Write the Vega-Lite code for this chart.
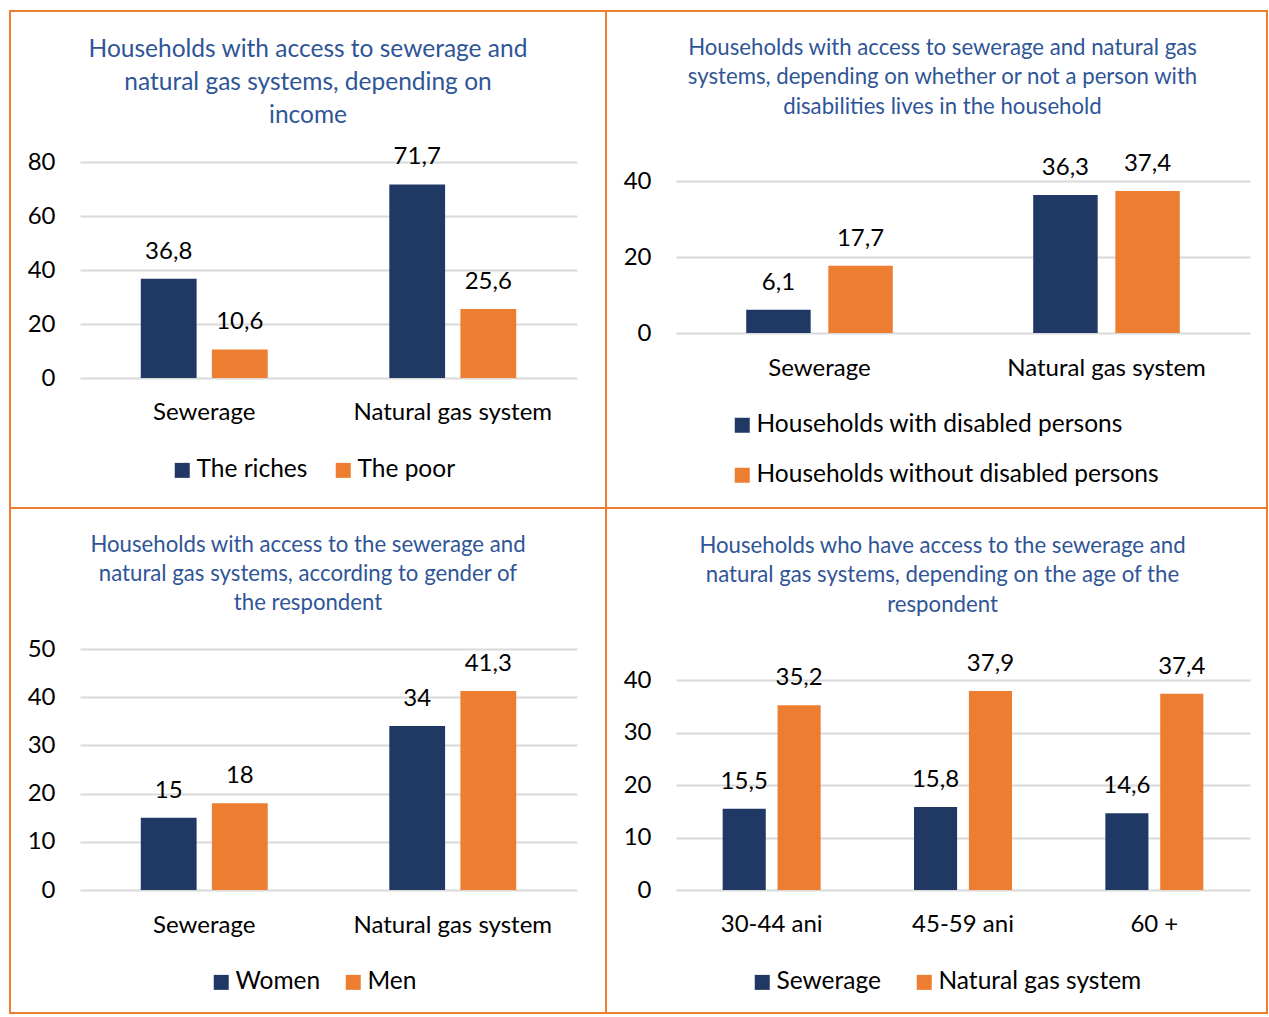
{
  "$schema": "https://vega.github.io/schema/vega-lite/v6.json",
  "background": "white",
  "padding": {"left": 9, "top": 10, "right": 0, "bottom": 0},
  "datasets": {
    "income": [
      {"cat": "Sewerage", "grp": "The riches", "v": 36.8, "label": "36,8"},
      {"cat": "Sewerage", "grp": "The poor", "v": 10.6, "label": "10,6"},
      {"cat": "Natural gas system", "grp": "The riches", "v": 71.7, "label": "71,7"},
      {"cat": "Natural gas system", "grp": "The poor", "v": 25.6, "label": "25,6"}
    ],
    "disability": [
      {"cat": "Sewerage", "grp": "Households with disabled persons", "v": 6.1, "label": "6,1"},
      {"cat": "Sewerage", "grp": "Households without disabled persons", "v": 17.7, "label": "17,7"},
      {"cat": "Natural gas system", "grp": "Households with disabled persons", "v": 36.3, "label": "36,3"},
      {"cat": "Natural gas system", "grp": "Households without disabled persons", "v": 37.4, "label": "37,4"}
    ],
    "gender": [
      {"cat": "Sewerage", "grp": "Women", "v": 15, "label": "15"},
      {"cat": "Sewerage", "grp": "Men", "v": 18, "label": "18"},
      {"cat": "Natural gas system", "grp": "Women", "v": 34, "label": "34"},
      {"cat": "Natural gas system", "grp": "Men", "v": 41.3, "label": "41,3"}
    ],
    "age": [
      {"cat": "30-44 ani", "grp": "Sewerage", "v": 15.5, "label": "15,5"},
      {"cat": "30-44 ani", "grp": "Natural gas system", "v": 35.2, "label": "35,2"},
      {"cat": "45-59 ani", "grp": "Sewerage", "v": 15.8, "label": "15,8"},
      {"cat": "45-59 ani", "grp": "Natural gas system", "v": 37.9, "label": "37,9"},
      {"cat": "60 +", "grp": "Sewerage", "v": 14.6, "label": "14,6"},
      {"cat": "60 +", "grp": "Natural gas system", "v": 37.4, "label": "37,4"}
    ]
  },
  "concat": [
    {
      "width": 596, "height": 497,
      "data": {"name": "income"},
      "title": {"text": ["Households with access to sewerage and", "natural gas systems, depending on", "income"], "fontSize": 24.5, "lineHeight": 33, "offset": -117},
      "encoding": {
        "x": {"field": "cat", "type": "nominal", "sort": null, "scale": {"domain": ["Sewerage", "Natural gas system"], "range": [70, 567], "paddingInner": 0, "paddingOuter": 0}, "axis": {"title": null, "offset": -130, "labelPadding": 34}},
        "xOffset": {"field": "grp", "type": "nominal", "sort": null, "scale": {"domain": ["The riches", "The poor"], "range": [0, 248.5], "paddingInner": 0.215, "paddingOuter": 0.855}},
        "y": {"field": "v", "type": "quantitative", "scale": {"domain": [0, 80], "range": [367, 151], "nice": false, "zero": true}, "axis": {"title": null, "values": [0, 20, 40, 60, 80], "offset": -45}}
      },
      "layer": [
        {"mark": {"type": "bar"}, "encoding": {"color": {"field": "grp", "type": "nominal", "scale": {"domain": ["The riches", "The poor"], "range": ["#203864", "#ED7D31"]}, "legend": {"orient": "none", "legendX": 160, "legendY": 447, "direction": "horizontal", "columnPadding": 23}}}},
        {"mark": {"type": "text", "dy": -27, "baseline": "middle", "fontSize": 24, "color": "#000000"}, "encoding": {"text": {"field": "label"}}}
      ]
    },
    {
      "width": 661, "height": 497,
      "data": {"name": "disability"},
      "title": {"text": ["Households with access to sewerage and natural gas", "systems, depending on whether or not a person with", "disabilities lives in the household"], "fontSize": 22.2, "lineHeight": 29.5, "offset": -107, "dx": 6},
      "encoding": {
        "x": {"field": "cat", "type": "nominal", "sort": null, "scale": {"domain": ["Sewerage", "Natural gas system"], "range": [70, 644], "paddingInner": 0, "paddingOuter": 0}, "axis": {"title": null, "offset": -175, "labelPadding": 35}},
        "xOffset": {"field": "grp", "type": "nominal", "sort": null, "scale": {"domain": ["Households with disabled persons", "Households without disabled persons"], "range": [0, 287], "paddingInner": 0.215, "paddingOuter": 0.855}},
        "y": {"field": "v", "type": "quantitative", "scale": {"domain": [0, 40], "range": [322, 170], "nice": false, "zero": true}, "axis": {"title": null, "values": [0, 20, 40], "offset": -45}}
      },
      "layer": [
        {"mark": {"type": "bar"}, "encoding": {"color": {"field": "grp", "type": "nominal", "scale": {"domain": ["Households with disabled persons", "Households without disabled persons"], "range": ["#203864", "#ED7D31"]}, "legend": {"orient": "none", "legendX": 124, "legendY": 402, "direction": "vertical", "rowPadding": 25}}}},
        {"mark": {"type": "text", "dy": -27, "baseline": "middle", "fontSize": 24, "color": "#000000"}, "encoding": {"text": {"field": "label"}}}
      ]
    },
    {
      "width": 596, "height": 505,
      "data": {"name": "gender"},
      "title": {"text": ["Households with access to the sewerage and", "natural gas systems, according to gender of", "the respondent"], "fontSize": 22.2, "lineHeight": 29, "offset": -106},
      "encoding": {
        "x": {"field": "cat", "type": "nominal", "sort": null, "scale": {"domain": ["Sewerage", "Natural gas system"], "range": [70, 567], "paddingInner": 0, "paddingOuter": 0}, "axis": {"title": null, "offset": -123, "labelPadding": 35}},
        "xOffset": {"field": "grp", "type": "nominal", "sort": null, "scale": {"domain": ["Women", "Men"], "range": [0, 248.5], "paddingInner": 0.215, "paddingOuter": 0.855}},
        "y": {"field": "v", "type": "quantitative", "scale": {"domain": [0, 50], "range": [382, 141], "nice": false, "zero": true}, "axis": {"title": null, "values": [0, 10, 20, 30, 40, 50], "offset": -45}}
      },
      "layer": [
        {"mark": {"type": "bar"}, "encoding": {"color": {"field": "grp", "type": "nominal", "scale": {"domain": ["Women", "Men"], "range": ["#203864", "#ED7D31"]}, "legend": {"orient": "none", "legendX": 199, "legendY": 462, "direction": "horizontal", "columnPadding": 20}}}},
        {"mark": {"type": "text", "dy": -27, "baseline": "middle", "fontSize": 24, "color": "#000000"}, "encoding": {"text": {"field": "label"}}}
      ]
    },
    {
      "width": 661, "height": 505,
      "data": {"name": "age"},
      "title": {"text": ["Households who have access to the sewerage and", "natural gas systems, depending on the age of the", "respondent"], "fontSize": 22.2, "lineHeight": 29.5, "offset": -108, "dx": 6},
      "encoding": {
        "x": {"field": "cat", "type": "nominal", "sort": null, "scale": {"domain": ["30-44 ani", "45-59 ani", "60 +"], "range": [70, 644], "paddingInner": 0, "paddingOuter": 0}, "axis": {"title": null, "offset": -123, "labelPadding": 34}},
        "xOffset": {"field": "grp", "type": "nominal", "sort": null, "scale": {"domain": ["Sewerage", "Natural gas system"], "range": [0, 191.33], "paddingInner": 0.215, "paddingOuter": 0.85}},
        "y": {"field": "v", "type": "quantitative", "scale": {"domain": [0, 40], "range": [382, 172], "nice": false, "zero": true}, "axis": {"title": null, "values": [0, 10, 20, 30, 40], "offset": -45}}
      },
      "layer": [
        {"mark": {"type": "bar"}, "encoding": {"color": {"field": "grp", "type": "nominal", "scale": {"domain": ["Sewerage", "Natural gas system"], "range": ["#203864", "#ED7D31"]}, "legend": {"orient": "none", "legendX": 144, "legendY": 462, "direction": "horizontal", "columnPadding": 31}}}},
        {"mark": {"type": "text", "dy": -27, "baseline": "middle", "fontSize": 24, "color": "#000000"}, "encoding": {"text": {"field": "label"}}}
      ]
    }
  ],
  "columns": 2,
  "spacing": 0,
  "bounds": "flush",
  "align": "each",
  "resolve": {"scale": {"x": "independent", "y": "independent", "xOffset": "independent", "color": "independent"}},
  "config": {
    "font": "Lato",
    "view": {"stroke": "#ED7D31", "strokeWidth": 2},
    "title": {"color": "#2F5597", "font": "Lato", "fontWeight": "normal", "anchor": "middle", "frame": "group"},
    "axis": {"ticks": false, "tickSize": 0, "domain": false, "labelFont": "Lato", "labelFontSize": 24, "labelColor": "#000000", "gridColor": "#D9D9D9", "gridWidth": 2, "labelPadding": 0},
    "axisX": {"grid": false, "labelBaseline": "middle", "labelLimit": 400, "labelAngle": 0},
    "axisY": {"grid": true},
    "legend": {"title": null, "symbolType": "square", "symbolSize": 225, "labelFont": "Lato", "labelFontSize": 24.5, "labelColor": "#000000", "labelOffset": 2, "labelLimit": 1000, "symbolStrokeWidth": 0},
    "text": {"font": "Lato"}
  }
}
